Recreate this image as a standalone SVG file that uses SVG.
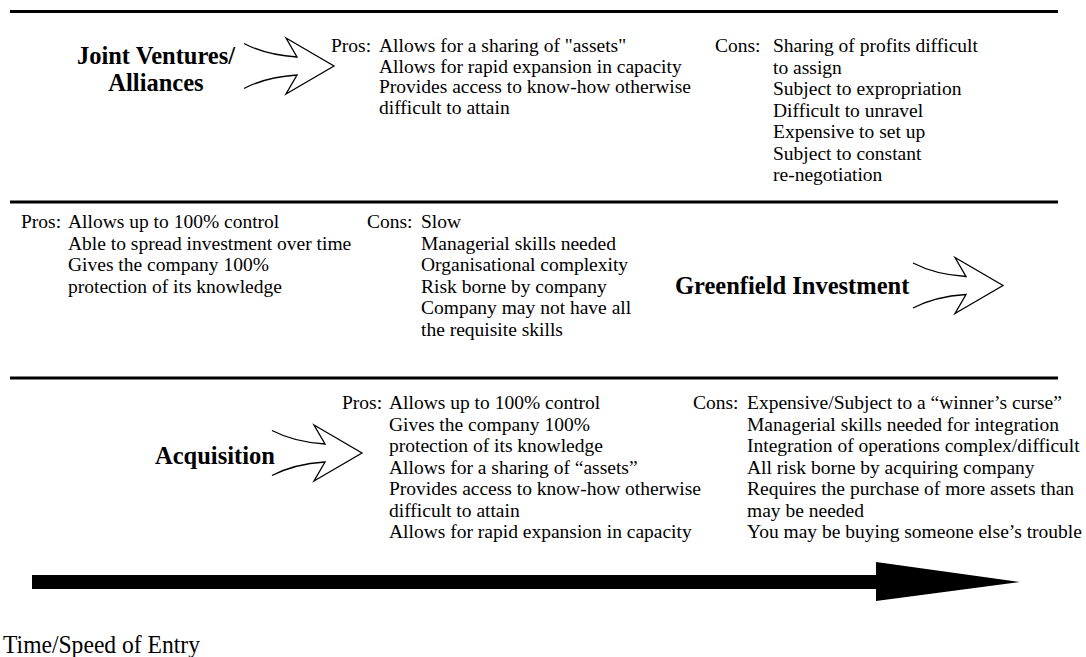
<svg xmlns="http://www.w3.org/2000/svg" width="1086" height="657" viewBox="0 0 1086 657">
  <style>
    .body { font-family: "Liberation Serif", "Times New Roman", serif; font-size: 19.5px; fill: #000; }
    .title { font-family: "Liberation Serif", "Times New Roman", serif; font-size: 24.5px; font-weight: bold; fill: #000; }
    .axis { font-family: "Liberation Serif", "Times New Roman", serif; font-size: 25px; fill: #000; }
    .rule { stroke: #000; stroke-width: 3; }
    .chev { fill: none; stroke: #000; stroke-width: 1.3; stroke-linejoin: miter; }
  </style>
  <defs>
    <!-- open block arrow, tail at x=0, centred on y=0 -->
    <path id="chevron" class="chev" d="M0,-22.5 Q22,-11 53,-9 L42,-28 L90,0 L42,28 L53,9 Q22,11 0,22.5"/>
  </defs>
  <rect width="1086" height="657" fill="#fff"/>

  <!-- section rules -->
  <g id="rules">
    <line class="rule" x1="10" y1="11.5" x2="1058" y2="11.5"/>
    <line class="rule" x1="10" y1="202" x2="1058" y2="202"/>
    <line class="rule" x1="10" y1="378" x2="1058" y2="378"/>
  </g>

  <!-- Joint ventures / alliances -->
  <g id="joint-ventures">
    <text class="title" x="156" y="63.5" text-anchor="middle">Joint Ventures/</text>
    <text class="title" x="156" y="90.5" text-anchor="middle">Alliances</text>
  </g>
  <g id="jv-pros" class="body">
    <text x="331" y="52">Pros:</text>
    <text x="379" y="52">Allows for a sharing of "assets"</text>
    <text x="379" y="72.5">Allows for rapid expansion in capacity</text>
    <text x="379" y="93">Provides access to know-how otherwise</text>
    <text x="379" y="113.5">difficult to attain</text>
  </g>
  <g id="jv-cons" class="body">
    <text x="715" y="52">Cons:</text>
    <text x="773" y="52">Sharing of profits difficult</text>
    <text x="773" y="73.5">to assign</text>
    <text x="773" y="95">Subject to expropriation</text>
    <text x="773" y="116.5">Difficult to unravel</text>
    <text x="773" y="138">Expensive to set up</text>
    <text x="773" y="159.5">Subject to constant</text>
    <text x="773" y="181">re-negotiation</text>
  </g>

  <!-- Greenfield investment -->
  <g id="greenfield">
    <text class="title" x="675" y="294">Greenfield Investment</text>
  </g>
  <g id="gf-pros" class="body">
    <text x="21" y="228">Pros:</text>
    <text x="68" y="228">Allows up to 100% control</text>
    <text x="68" y="249.5">Able to spread investment over time</text>
    <text x="68" y="271">Gives the company 100%</text>
    <text x="68" y="292.5">protection of its knowledge</text>
  </g>
  <g id="gf-cons" class="body">
    <text x="367" y="228">Cons:</text>
    <text x="421" y="228">Slow</text>
    <text x="421" y="249.5">Managerial skills needed</text>
    <text x="421" y="271">Organisational complexity</text>
    <text x="421" y="292.5">Risk borne by company</text>
    <text x="421" y="314">Company may not have all</text>
    <text x="421" y="335.5">the requisite skills</text>
  </g>

  <!-- Acquisition -->
  <g id="acquisition">
    <text class="title" x="155" y="464">Acquisition</text>
  </g>
  <g id="acq-pros" class="body">
    <text x="342" y="409">Pros:</text>
    <text x="389" y="409">Allows up to 100% control</text>
    <text x="389" y="430.5">Gives the company 100%</text>
    <text x="389" y="452">protection of its knowledge</text>
    <text x="389" y="473.5">Allows for a sharing of “assets”</text>
    <text x="389" y="495">Provides access to know-how otherwise</text>
    <text x="389" y="516.5">difficult to attain</text>
    <text x="389" y="538">Allows for rapid expansion in capacity</text>
  </g>
  <g id="acq-cons" class="body">
    <text x="693" y="409">Cons:</text>
    <text x="747" y="409">Expensive/Subject to a “winner’s curse”</text>
    <text x="747" y="430.5">Managerial skills needed for integration</text>
    <text x="747" y="452">Integration of operations complex/difficult</text>
    <text x="747" y="473.5">All risk borne by acquiring company</text>
    <text x="747" y="495">Requires the purchase of more assets than</text>
    <text x="747" y="516.5">may be needed</text>
    <text x="747" y="538">You may be buying someone else’s trouble</text>
  </g>

  <!-- block arrows pointing from each mode to its pros/cons -->
  <g id="connectors">
    <use href="#chevron" transform="translate(244,66)"/>
    <use href="#chevron" transform="translate(913,285.5)"/>
    <use href="#chevron" transform="translate(272,453)"/>
  </g>

  <!-- time / speed of entry axis -->
  <g id="timeline">
    <polygon points="32,575 876,575 876,562 1020,582 876,601 876,589 32,589" fill="#000"/>
    <text class="axis" x="3" y="653" textLength="197" lengthAdjust="spacingAndGlyphs">Time/Speed of Entry</text>
  </g>
</svg>
